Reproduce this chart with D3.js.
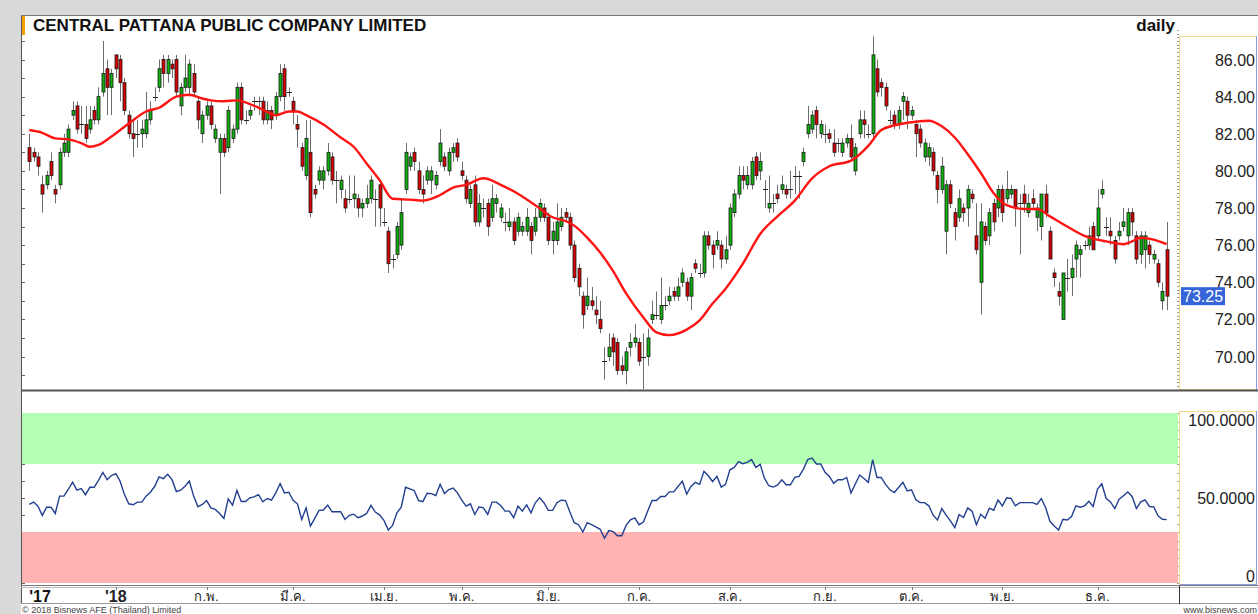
<!DOCTYPE html>
<html>
<head>
<meta charset="utf-8">
<script src="https://cdn.jsdelivr.net/npm/d3@7"></script>
<style>
  body { margin: 0; background: #ffffff; }
  svg { display: block; font-family: "Liberation Sans", Arial, sans-serif; }
</style>
</head>
<body>
<div id="chart"></div>
<script>
// daily candles, Dec 2017 - Dec 2018
const opens = [
  81.25,81,80.75,79.25,79.25,80.5,79,79.25,81,81,
  83,83.5,82.5,82.5,82.25,83.25,82.75,84.25,85.5,84.5,
  86.25,86,84.75,83,82,82,82,82,82.75,84,
  84.5,86,85.25,85.75,86,83.5,84.5,84.5,85.25,83.75,
  82,83,83.5,81.75,81,81.75,81.25,81.75,82.25,84.5,
  82.75,83,83.75,83.75,83.75,82.75,83.25,83,84,85.5,
  84.25,83.75,82.5,81.25,79.75,81,79,79.5,79.5,80,
  80.75,79.5,79,78.5,78.5,78.5,78.5,78,78.25,78.5,
  78.5,79.25,77.25,76.75,75.25,75.5,76,79,80.25,81,
  80,79,79.5,79.5,79.25,80.5,80.75,80,81,81.5,
  80,79.5,78.25,79.25,77.25,78,78.25,77.5,78.25,77.5,
  77.25,77,77.25,76.75,76.75,76.75,77,76.75,77.5,78,
  77.5,76.25,76.25,77,77.75,77.5,76,74.75,73.25,72.75,
  73,72.5,72,69.75,70,71,70.75,69.5,69.25,70.5,
  70.75,70.75,70,70,72,72.25,72,72.75,73,73.5,
  73.25,74,74,73.25,75,74.5,74.5,76.5,76,76,
  76,75.25,76,77.75,78.75,79.75,79.25,79.25,80.75,80,
  79,78,78.25,78.75,79,79,79,79.75,79.75,80.5,
  82,82.25,83.25,82,82,82,81.5,81.5,81,81.5,
  81.75,80,82,82.75,82,82,85.5,84.75,84.5,82.75,
  83,82.5,83.75,83.75,83,82.5,82.25,80.75,80.75,81,
  79.75,79,76.75,79.25,77.75,77.5,78,78,78.75,76.5,
  74,77,76.5,78.25,78,79,78.5,78.75,79,78.25,
  78.75,77.75,78.5,77.5,77,78.75,76.75,74.5,73.5,72,
  74.25,74.25,75.25,75.5,76,76,77,76.5,78.75,77,
  76.75,76.25,76.5,77,76.5,77.75,76.5,75.5,75.75,76,
  75.25,75,73,75.75
];
const highs = [
  82,81.25,81,79.75,80,81,79.25,81.25,82,82.5,
  83.75,83.75,83.5,83.5,83.5,83.5,84.5,87,86,85.5,
  86.25,86.25,85,83.25,82.75,82.75,82.75,84.25,83.75,84.5,
  86,86.25,86.25,86,86.25,84.75,86.25,86,85.75,84,
  83.25,83.75,83.75,82.5,82,82,83.5,82.5,84.75,84.75,
  83.25,83.5,84,84,84,83.75,83.5,84.25,85.75,85.75,
  84.5,84,83,81.5,82.75,82.75,79.25,80.25,80.25,81.5,
  81,80,79.75,79,79.75,79.75,78.75,78.5,79.25,79.75,
  79,79.5,78,77,75.5,77.25,78.5,81.5,81,81.25,
  80.5,79.75,80.25,80.25,80,82.25,81,81.25,81.5,81.75,
  80.5,79.75,79.25,79.75,78.75,78.5,78.5,79.25,78.75,78.25,
  77.75,78,77.5,77.75,77.25,78,77.25,78,78.5,78.25,
  77.75,77.25,78.25,78,78,77.75,76.25,75,73.5,74.25,
  73.75,73.25,73,70.5,71.25,71.25,71,70,70.5,71.25,
  71.75,71,71.25,71.5,73,73.5,74.25,73.25,73.75,73.75,
  74.25,74.75,74.25,74.5,75.25,75,76.75,76.75,76.25,76.75,
  76.25,76.5,78.25,79,80.25,80.25,80.25,80.75,81,81,
  79.5,79.75,78.75,79.25,79.75,79.25,80,80.25,80,81.25,
  83.5,83.25,83.5,82.75,82.5,82.25,82.25,81.75,81.75,82,
  82.5,81.5,83.25,83.25,82.5,87.25,86,85,84.75,83.25,
  83.25,83.5,84.25,84,83.5,82.75,82.5,81.75,81.5,81.25,
  80,80.75,79.5,79.5,78,79,78.25,79.25,79,78.25,
  78.25,77.25,78,78.5,79.25,79.25,80,79.25,79,78.75,
  79.25,78.75,79,78.25,78.75,79.25,77,74.75,74,74.5,
  75.25,75.5,76.25,76,76.25,77,77.25,79,79.5,77.5,
  77.5,76.5,77.25,78,78,78,76.75,76.75,76.75,76.25,
  75.75,75.25,74,77.25
];
const lows = [
  80,80.5,79.75,77.75,79,79.5,78.25,79,80.75,80.75,
  82.75,82,82,81.5,82,82.5,82.5,84,83,83,
  85,83.75,83,81.75,80.75,81.25,81.25,81.75,82.5,83.75,
  84.25,84.5,84.75,85,84,83,84.25,84,84,82.25,
  81.5,82.75,82.25,81.5,78.75,80.75,81,81.5,82,82.5,
  82.5,82.75,83.25,83,82.5,82.5,82.25,82.75,83.75,83.25,
  84,82.5,81.25,80,79.5,77.5,78.5,79.25,79,79.75,
  79.25,78.25,78.5,77.75,78.25,78,77.5,77.5,78,78.25,
  77,77,77,74.5,74.75,75.25,75.75,78.75,80,80,
  78.75,78.25,79.25,78.75,79,80.25,80,79.75,80.5,80.5,
  79.5,78.25,78,77,77,77.5,76.5,77.25,77.75,77.25,
  76.75,76.75,76,76.5,76.5,76.5,75.5,76.5,77.25,77.25,
  76,75.5,76,76.75,77.25,75.75,74,73.25,71.5,72.5,
  72.5,71.75,71.25,68.75,69.75,69.5,69,69,68.5,70,
  70.5,69.5,68.25,69.5,71.75,72,71.75,72.5,72.75,73,
  73,73.75,73,72.5,74.5,74.25,74.25,75.75,74.75,75.75,
  74.75,75,75.75,77.5,78.5,79,79,79,79.5,79.5,
  78,77.75,77.75,78.25,78.75,78.5,78.5,78.75,78.5,80.25,
  81.75,82,81.75,81.75,81.5,81.5,80.75,81,80.75,81.25,
  80.5,79.75,81.75,81.75,81.75,81.75,84,84,83.25,82.5,
  82.25,82.25,82.75,82.25,82.75,80.75,81.25,80.5,80.25,79.75,
  78.25,78.75,75.5,78,76.25,77.25,77.25,77,78.25,75.5,
  72.25,76,76,76.75,77.5,77.25,78.25,78.5,77,75.5,
  77.75,77.5,78,76.75,76.25,77.5,75.25,73.75,72.75,72,
  73.5,73.25,74.25,74.25,75.75,75.75,75.75,76.25,78.5,76.5,
  76,75,76.25,76.75,76,76.5,75,75,74.75,75,
  75,73.75,72.5,72.5
];
const closes = [
  80.5,80.75,80.25,78.75,79.75,79.75,78.75,81,81.5,82.25,
  83.25,82.25,82.5,81.75,82.75,82.75,84,85.25,84.5,85.25,
  85.5,84.75,83.25,82,81.75,82,82.25,82.75,83.25,84,
  85.5,85.25,86,85.5,84.25,84.5,85,85.75,84.25,82.75,
  83,83.5,82.5,82.25,81.75,81,83.25,82.25,84.5,82.75,
  82.75,83.25,83.75,83.75,82.75,83.25,82.75,84,85.25,84,
  84.25,83.25,82.25,80.25,81.75,77.75,78.75,80,80,81,
  79.5,79.5,79.5,78,78.5,78.75,78,78.25,78.5,79.5,
  78.5,78,77.25,75,75.25,77,77.75,81,80.75,80.5,
  79,78.75,80,80,79.75,81.5,80.25,81,81.25,80.75,
  79.75,78.5,79,77.25,78.25,78,77,78.5,78.5,78,
  77.25,77.25,76.25,77.5,77,77.5,76.25,77.5,78.25,77.5,
  76.25,76.75,77.25,77.5,77.5,76,74.25,73.75,72.25,73.25,
  72.75,72.25,71.5,69.75,70.5,70.25,69.25,69.25,70.25,70.75,
  71,69.75,70,71,72.25,72.25,72.75,72.75,73.25,73.25,
  73.75,74.5,73.25,74.25,74.75,74.5,76.5,76,75.5,76.25,
  75.25,75.75,78,78.75,79.75,79.5,79.75,80.5,79.75,80.5,
  79,78.25,78.25,78.5,79.25,78.75,79,79.75,79.75,81,
  82.5,83,82.5,82.5,82,81.75,81,81.5,81.5,81.75,
  80.75,81.25,82.75,82.5,82,86.25,84.25,84.5,83.5,82.75,
  82.5,83.25,84,83,83.25,82,81.5,81.5,81.25,80,
  79,80.25,79.25,78.25,77,78.5,77.75,79,78.5,75.75,
  77.25,76.25,77.75,77.25,79,77.75,79,79,78,78.25,
  78.25,78.25,78.25,78,78.75,77.75,75.25,74.25,73.25,74.5,
  74.25,74.75,76,75.75,76,76.5,75.75,78,79,77,
  76.5,75.25,76.75,77.25,77.75,77.25,75.25,76.5,76.5,75.5,
  75.5,74,73.5,73.25
];

// red moving average, read at its bends (candle index, price)
const maIdx = [0,3,6,9,12,14,16,19,23,27,30,34,37,40,42,45,48,51,54,57,
  60,62,64,68,72,75,78,81,84,88,91,95,98,101,105,109,112,117,121,124,
  126,129,132,135,138,142,145,148,150,152,155,158,161,165,169,173,177,181,185,190,
  194,197,200,205,208,211,214,217,220,223,226,230,233,236,240,244,249,253,255,257,
  260,263];
const maVal = [82.2,82.05,81.75,81.7,81.5,81.3,81.4,81.85,82.55,83.2,83.4,84.0,84.1,83.9,83.8,83.75,83.8,83.6,83.3,83.0,
  83.2,83.2,83.0,82.5,81.8,81.3,80.4,79.5,78.5,78.45,78.4,78.7,79.1,79.25,79.6,79.25,78.9,78.15,77.5,77.3,
  77.05,76.4,75.6,74.6,73.4,72.1,71.3,71.15,71.24,71.45,71.95,72.85,73.65,75.0,76.6,77.55,78.4,79.6,80.25,80.55,
  81.35,82.2,82.45,82.65,82.7,82.4,81.8,80.9,79.9,78.8,78.15,77.95,77.95,77.55,77.0,76.5,76.2,76.05,76.2,76.4,
  76.3,76.05];

// lower panel oscillator, one value per candle
const rsi = [
  46.2,47.6,45.2,39.8,44.6,44.6,40.9,51.1,51.1,55.0,
  59.3,54.6,55.6,52.0,56.3,56.3,60.4,65.1,60.8,63.2,
  64.3,59.9,52.0,46.6,46.0,47.6,47.6,51.1,53.4,56.9,
  62.4,61.4,63.9,60.8,53.8,54.6,56.9,60.0,51.1,44.8,
  46.2,48.5,44.2,43.3,40.9,38.0,49.5,45.8,54.4,47.9,
  47.9,50.1,50.7,52.0,47.8,49.7,48.7,53.0,58.5,53.0,
  53.4,48.7,46.6,37.4,44.2,33.5,38.0,42.7,42.9,45.8,
  41.9,41.9,41.9,37.4,39.8,40.5,38.4,39.4,40.9,45.6,
  41.7,40.1,36.8,31.2,33.9,41.3,44.6,56.3,55.4,54.4,
  48.5,47.9,52.8,52.6,51.5,58.1,52.6,55.0,55.9,53.0,
  48.7,45.2,46.6,40.3,44.8,44.2,40.3,47.6,47.6,45.6,
  42.3,42.3,38.4,45.2,42.3,46.0,41.3,47.2,50.1,47.2,
  42.7,42.7,47.2,48.7,48.5,41.7,35.5,34.3,
  30.0,35.5,34.3,33.0,31.6,26.3,30.8,30.2,27.8,27.8,
  33.9,37.1,38.3,34.3,35.9,42.4,48.5,48.5,50.9,50.9,
  53.6,53.6,56.8,59.9,52.3,56.8,59.2,58.0,65.7,63.1,
  59.7,62.7,56.4,58.0,66.6,68.0,71.4,70.2,71.0,72.6,
  68.0,69.8,61.5,57.2,56.4,57.6,60.7,57.8,57.8,62.1,
  62.7,67.0,72.6,73.5,70.0,70.0,65.1,62.7,58.6,60.7,
  60.7,62.1,52.9,58.2,63.5,61.5,59.2,72.6,62.1,62.1,
  58.0,54.8,53.2,56.2,59.2,54.2,54.8,48.9,47.3,47.3,
  45.4,39.9,37.1,43.8,39.9,36.5,32.6,40.2,38.5,44.2,
  42.2,34.3,40.4,38.1,44.0,42.8,48.9,45.4,50.1,49.7,
  45.4,47.3,47.3,47.3,47.3,46.2,49.7,44.4,36.3,33.5,
  31.2,37.5,37.1,39.1,45.4,44.6,45.4,48.1,45.0,55.2,
  58.4,49.7,47.7,43.8,49.3,51.3,53.6,50.9,43.8,47.7,
  48.9,45.0,44.8,39.5,37.5,37.3
];

const monthLabels = ["'18","ก.พ.","มี.ค.","เม.ย.","พ.ค.","มิ.ย.","ก.ค.","ส.ค.","ก.ย.","ต.ค.","พ.ย.","ธ.ค."];
const monthIdx = [20,41,61,82,100,120,141,162,184,204,225,247];
const priceTicks = [70,72,74,76,78,80,82,84,86];
const rsiTicks = [0,50,100];
const lastPrice = 73.25;

const W = 1258, H = 614;
const N = closes.length;

const svg = d3.select("#chart").append("svg")
  .attr("width", W).attr("height", H);

// page background and frame
svg.append("rect").attr("width", W).attr("height", H).attr("fill", "#ffffff");
svg.append("rect").attr("x", 0).attr("y", 0).attr("width", W).attr("height", 15).attr("fill", "#d9d9d9");
svg.append("rect").attr("x", 0).attr("y", 0).attr("width", 21).attr("height", H).attr("fill", "#d9d9d9");
svg.append("line").attr("x1", 21.5).attr("x2", 21.5).attr("y1", 15).attr("y2", 604).attr("stroke", "#555");
svg.append("line").attr("x1", 21).attr("x2", W).attr("y1", 15.5).attr("y2", 15.5).attr("stroke", "#777");

// scales
const x = d3.scaleLinear().domain([0, N - 1]).range([29.3, 1166.7]);
const y = d3.scaleLinear().domain([70, 86]).range([356.5, 59.5]);
const yr = d3.scaleLinear().domain([0, 100]).range([583, 413]);

// title bar
svg.append("rect").attr("x", 22).attr("y", 16).attr("width", 3).attr("height", 19).attr("fill", "#f5a000");
svg.append("text").attr("x", 33).attr("y", 31)
  .style("font-size", "17px").style("font-weight", "bold").attr("fill", "#111")
  .text("CENTRAL PATTANA PUBLIC COMPANY LIMITED");
svg.append("text").attr("x", 1175).attr("y", 31).attr("text-anchor", "end")
  .style("font-size", "17px").style("font-weight", "bold").attr("fill", "#111")
  .text("daily");

// right axis boxes
svg.append("rect").attr("x", 1179.5).attr("y", 36.5).attr("width", 77).attr("height", 353)
  .attr("fill", "#fff").attr("stroke", "#f1d88a");
svg.append("line").attr("x1", 1256.5).attr("x2", 1256.5).attr("y1", 36).attr("y2", 390).attr("stroke", "#8d9be0");
svg.append("rect").attr("x", 1179.5).attr("y", 411.5).attr("width", 77).attr("height", 173)
  .attr("fill", "#fff").attr("stroke", "#f1d88a");
svg.append("line").attr("x1", 1256.5).attr("x2", 1256.5).attr("y1", 411).attr("y2", 585).attr("stroke", "#8d9be0");
svg.append("line").attr("x1", 1180).attr("x2", 1257).attr("y1", 584.5).attr("y2", 584.5).attr("stroke", "#8d9be0");

// small ticks along panel edges
const priceMinor = d3.range(69, 87.01, 1);
svg.append("g").selectAll("line").data(priceMinor).join("line")
  .attr("x1", 22).attr("x2", 25)
  .attr("y1", d => Math.round(y(d)) + 0.5).attr("y2", d => Math.round(y(d)) + 0.5)
  .attr("stroke", "#666");
const priceFine = d3.range(68.2, 87.8, 0.2);
svg.append("g").selectAll("line").data(priceFine).join("line")
  .attr("x1", 1177).attr("x2", 1179)
  .attr("y1", d => Math.round(y(d)) + 0.5).attr("y2", d => Math.round(y(d)) + 0.5)
  .attr("stroke", "#999");
const rsiMinor = d3.range(0, 100.1, 10);
svg.append("g").selectAll("line").data(rsiMinor).join("line")
  .attr("x1", 22).attr("x2", 25)
  .attr("y1", d => Math.round(yr(d)) + 0.5).attr("y2", d => Math.round(yr(d)) + 0.5)
  .attr("stroke", "#666");
svg.append("g").selectAll("line").data(d3.range(0, 100.1, 5)).join("line")
  .attr("x1", 1177).attr("x2", 1179)
  .attr("y1", d => Math.round(yr(d)) + 0.5).attr("y2", d => Math.round(yr(d)) + 0.5)
  .attr("stroke", "#999");

// price axis labels
svg.append("g").selectAll("text").data(priceTicks).join("text")
  .attr("x", 1255).attr("y", d => y(d) + 6).attr("text-anchor", "end")
  .style("font-size", "16px").attr("fill", "#222")
  .text(d => d.toFixed(2));

// last price tag
svg.append("rect").attr("x", 1181).attr("y", y(lastPrice) - 9).attr("width", 44).attr("height", 18)
  .attr("fill", "#3565d8");
svg.append("text").attr("x", 1183).attr("y", y(lastPrice) + 6)
  .style("font-size", "16px").attr("fill", "#fff").text(lastPrice.toFixed(2));

// main panel bottom line
svg.append("line").attr("x1", 21).attr("x2", W).attr("y1", 390.5).attr("y2", 390.5)
  .attr("stroke", "#555").attr("stroke-width", 2);

// clip for candles
svg.append("clipPath").attr("id", "clipMain").append("rect")
  .attr("x", 22).attr("y", 36).attr("width", 1156).attr("height", 353);

const cg = svg.append("g").attr("clip-path", "url(#clipMain)");
const idx = d3.range(N);
const px = i => Math.round(x(i));

// wicks
cg.selectAll(".wick").data(idx).join("line").attr("class", "wick")
  .attr("x1", i => px(i) + 0.5).attr("x2", i => px(i) + 0.5)
  .attr("y1", i => y(highs[i])).attr("y2", i => y(lows[i]))
  .attr("stroke", "#6e6e6e").attr("stroke-width", 1);

// bodies
cg.selectAll(".body").data(idx.filter(i => opens[i] !== closes[i])).join("rect").attr("class", "body")
  .attr("x", i => px(i) - 1)
  .attr("width", 3)
  .attr("y", i => y(Math.max(opens[i], closes[i])))
  .attr("height", i => Math.abs(y(opens[i]) - y(closes[i])))
  .attr("fill", i => closes[i] > opens[i] ? "#10b010" : "#d80000")
  .attr("stroke", "#1a1a1a").attr("stroke-width", 0.8);

// doji dashes
cg.selectAll(".doji").data(idx.filter(i => opens[i] === closes[i])).join("line").attr("class", "doji")
  .attr("x1", i => px(i) - 2).attr("x2", i => px(i) + 3)
  .attr("y1", i => Math.round(y(closes[i])) + 0.5).attr("y2", i => Math.round(y(closes[i])) + 0.5)
  .attr("stroke", "#222");

// moving average
cg.append("path").datum(d3.zip(maIdx, maVal))
  .attr("fill", "none").attr("stroke", "#ff1414").attr("stroke-width", 2.4)
  .attr("d", d3.line().x(d => x(d[0])).y(d => y(d[1])).curve(d3.curveMonotoneX));

// oscillator panel bands
svg.append("rect").attr("x", 22).attr("y", yr(100)).attr("width", 1156).attr("height", yr(70) - yr(100))
  .attr("fill", "#b3ffb3");
svg.append("rect").attr("x", 22).attr("y", yr(30)).attr("width", 1156).attr("height", yr(0) - yr(30))
  .attr("fill", "#ffb3b3");

svg.append("path").datum(rsi)
  .attr("fill", "none").attr("stroke", "#233f8f").attr("stroke-width", 1.4)
  .attr("d", d3.line().x((d, i) => x(i)).y(d => yr(d)));

svg.append("g").selectAll("text").data(rsiTicks).join("text")
  .attr("x", 1255).attr("text-anchor", "end")
  .attr("y", d => d === 100 ? 426 : d === 0 ? 582 : yr(d) + 6)
  .style("font-size", "16px").attr("fill", "#222")
  .text(d => d === 0 ? "0" : d.toFixed(4));

// time axis strip
svg.append("line").attr("x1", 21).attr("x2", W).attr("y1", 585.5).attr("y2", 585.5).attr("stroke", "#777");
svg.append("line").attr("x1", 21).attr("x2", W).attr("y1", 587.5).attr("y2", 587.5).attr("stroke", "#bbb");
svg.append("line").attr("x1", 21).attr("x2", W).attr("y1", 603.5).attr("y2", 603.5).attr("stroke", "#999");
svg.append("line").attr("x1", 1179.5).attr("x2", 1179.5).attr("y1", 586).attr("y2", 604).attr("stroke", "#333");

svg.append("g").selectAll("line").data(monthIdx).join("line")
  .attr("x1", i => px(i) + 0.5).attr("x2", i => px(i) + 0.5)
  .attr("y1", 587).attr("y2", 590).attr("stroke", "#777");

svg.append("text").attr("x", 40).attr("y", 602).attr("text-anchor", "middle")
  .style("font-size", "16px").style("font-weight", "bold").attr("fill", "#111").text("'17");
svg.append("g").selectAll("text").data(monthLabels).join("text")
  .attr("x", (d, k) => x(monthIdx[k])).attr("y", (d, k) => k === 0 ? 602 : 601)
  .attr("text-anchor", "middle")
  .style("font-size", (d, k) => k === 0 ? "16px" : "13px")
  .style("font-weight", (d, k) => k === 0 ? "bold" : "normal")
  .attr("fill", "#222")
  .text(d => d);

// footer
svg.append("text").attr("x", 22).attr("y", 613).style("font-size", "9px").attr("fill", "#444")
  .text("© 2018 Bisnews AFE (Thailand) Limited");
svg.append("text").attr("x", 1257).attr("y", 613).attr("text-anchor", "end").style("font-size", "9px").attr("fill", "#444")
  .text("www.bisnews.com");
</script>
</body>
</html>
